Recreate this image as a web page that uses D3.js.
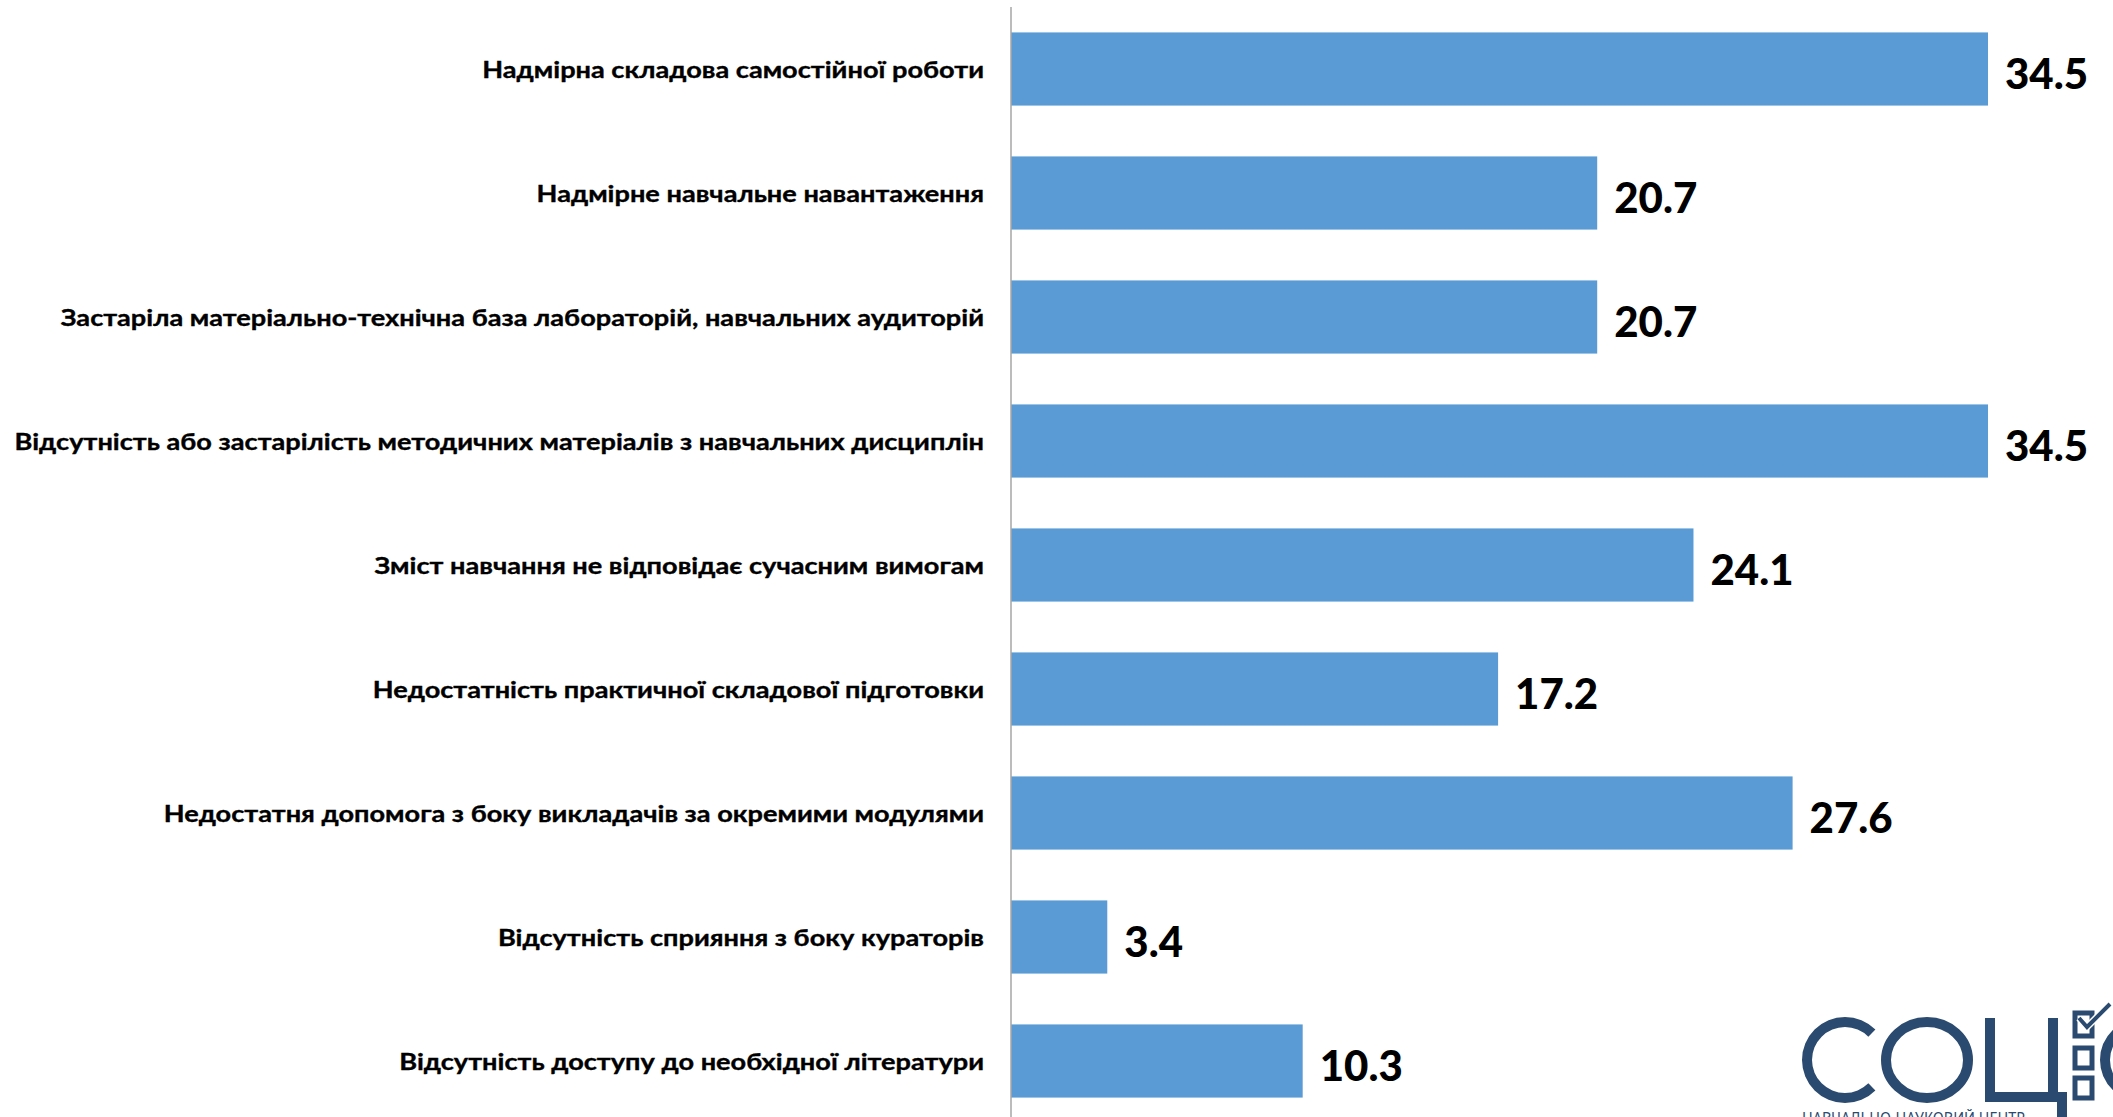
<!DOCTYPE html>
<html>
<head>
<meta charset="utf-8">
<script src="https://cdn.jsdelivr.net/npm/d3@7/dist/d3.min.js"></script>
<style>
  html, body { margin: 0; padding: 0; background: #fff; overflow: hidden; }
  svg { display: block; }
</style>
</head>
<body>
<svg id="chart" width="2113" height="1117"></svg>
<script>
const categories = [
  "Надмірна складова самостійної роботи",
  "Надмірне навчальне навантаження",
  "Застаріла матеріально-технічна база лабораторій, навчальних аудиторій",
  "Відсутність або застарілість методичних матеріалів з навчальних дисциплін",
  "Зміст навчання не відповідає сучасним вимогам",
  "Недостатність практичної складової підготовки",
  "Недостатня допомога з боку викладачів за окремими модулями",
  "Відсутність сприяння з боку кураторів",
  "Відсутність доступу до необхідної літератури"
];
const values = [34.5, 20.7, 20.7, 34.5, 24.1, 17.2, 27.6, 3.4, 10.3];
const logoSubtitle = "НАВЧАЛЬНО-НАУКОВИЙ ЦЕНТР";

const W = 2113, H = 1117;
const axisX = 1011;
const svg = d3.select("#chart");

const x = d3.scaleLinear().domain([0, 34.5]).range([axisX, 1988]);
const y = d3.scaleBand().domain(categories).range([7, 7 + 124 * 9])
  .paddingInner(0.41).paddingOuter(0.205);

const data = categories.map((c, i) => ({ c, v: values[i] }));

// bars
svg.append("g").selectAll("rect").data(data).join("rect")
  .attr("x", x(0))
  .attr("y", d => y(d.c))
  .attr("width", d => x(d.v) - x(0))
  .attr("height", y.bandwidth())
  .attr("fill", "#5B9BD5");

// category axis (no ticks, line only)
const axis = d3.axisLeft(y).tickSize(0).tickFormat("");
const ag = svg.append("g").attr("transform", `translate(${axisX},0)`).call(axis);
ag.select(".domain").remove();
svg.append("line")
  .attr("x1", axisX).attr("x2", axisX).attr("y1", 7).attr("y2", H)
  .attr("stroke", "#A6A6A6").attr("stroke-width", 1.5);

// category labels
const labelFont = "Lato, 'Open Sans', 'Noto Sans', sans-serif";
const lg = svg.append("g");
const labels = lg.selectAll("text").data(data).join("text")
  .attr("text-anchor", "end")
  .attr("dominant-baseline", "central")
  .attr("font-family", labelFont)
  .attr("font-weight", 700)
  .attr("font-size", 22)
  .attr("fill", "#000")
  .attr("stroke", "#000").attr("stroke-width", 0.35)
  .text(d => d.c);
let maxW = 0;
labels.each(function() { maxW = Math.max(maxW, this.getComputedTextLength()); });
const sx = 970 / maxW;
labels.attr("transform", d => `translate(984,${y(d.c) + y.bandwidth() / 2 + 1}) scale(${sx},1)`);

// value labels
svg.append("g").selectAll("text").data(data).join("text")
  .attr("x", d => x(d.v) + 17)
  .attr("y", d => y(d.c) + y.bandwidth() / 2 + 4)
  .attr("dominant-baseline", "central")
  .attr("font-family", labelFont)
  .attr("font-weight", 900)
  .attr("font-size", 42)
  .attr("fill", "#000")
  .text(d => d3.format(".1f")(d.v));

// logo
const blue = "#2B4A6F";
const logo = svg.append("g");
// С
const arcC = d3.arc().innerRadius(33).outerRadius(43)
  .startAngle(Math.PI * 0.75).endAngle(Math.PI * 2.25);
logo.append("path").attr("d", arcC()).attr("transform", "translate(1845,1060)").attr("fill", blue);
// О
logo.append("ellipse").attr("cx", 1927).attr("cy", 1060).attr("rx", 41).attr("ry", 38)
  .attr("fill", "none").attr("stroke", blue).attr("stroke-width", 10);
// Ц
logo.append("path")
  .attr("d", "M1985,1018 H1995 V1092 H2048 V1018 H2058 V1092 H2067 V1117 H2057 V1102 H1985 Z")
  .attr("fill", blue);
// checkboxes
[[1013, 1036], [1048, 1068], [1078, 1098]].forEach(([t, b]) => {
  logo.append("rect").attr("x", 2075).attr("y", t).attr("width", 17).attr("height", b - t)
    .attr("fill", "none").attr("stroke", blue).attr("stroke-width", 5);
});
logo.append("path").attr("d", "M2079,1018 L2087,1027 L2110,1004")
  .attr("fill", "none").attr("stroke", "#fff").attr("stroke-width", 7);
logo.append("path").attr("d", "M2079,1018 L2087,1027 L2110,1004")
  .attr("fill", "none").attr("stroke", blue).attr("stroke-width", 4);
// partial circle at edge
logo.append("ellipse").attr("cx", 2150).attr("cy", 1060).attr("rx", 45).attr("ry", 40)
  .attr("fill", "none").attr("stroke", blue).attr("stroke-width", 10);
logo.append("text").attr("x", 1802).attr("y", 1124)
  .attr("font-family", "'Noto Sans', sans-serif").attr("font-size", 16)
  .attr("fill", blue).attr("textLength", 223).attr("lengthAdjust", "spacingAndGlyphs")
  .text(logoSubtitle);
</script>
</body>
</html>
